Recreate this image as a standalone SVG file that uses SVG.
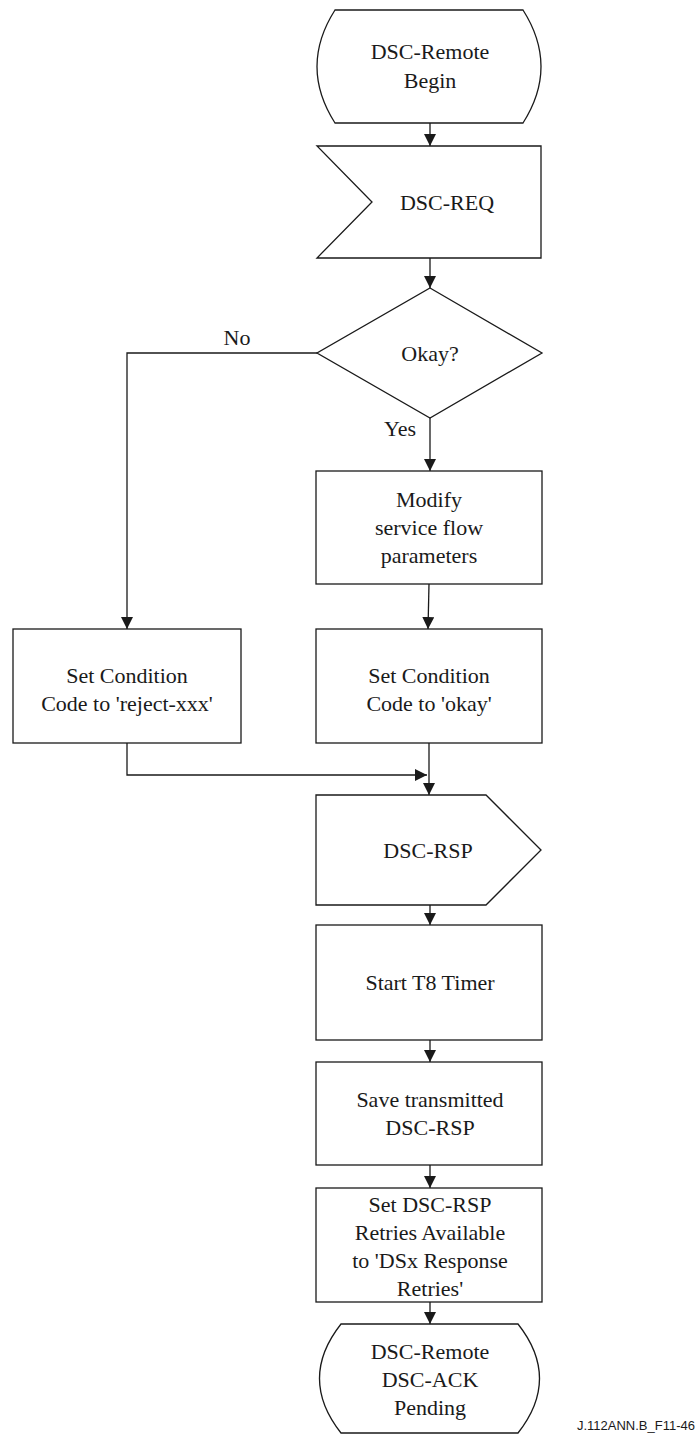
<svg xmlns="http://www.w3.org/2000/svg" width="698" height="1439" viewBox="0 0 698 1439">
<style>
.s{fill:#fff;stroke:#1a1a1a;stroke-width:1.3}
.c{fill:none;stroke:#1a1a1a;stroke-width:1.3}
.t{font-family:"Liberation Serif","Times New Roman",serif;font-size:22px;fill:#1a1a1a;text-anchor:middle}
.l{font-family:"Liberation Sans",Arial,sans-serif;font-size:13px;fill:#1a1a1a;text-anchor:end}
</style>
<defs>
<marker id="a" markerWidth="12" markerHeight="12" viewBox="0 0 12 12" refX="12" refY="6" orient="auto" markerUnits="userSpaceOnUse">
<path d="M0,0 L12,6 L0,12 Z" fill="#1a1a1a"/>
</marker>
</defs>
<g id="connectors">
<line class="c" x1="430" y1="123" x2="430" y2="146" marker-end="url(#a)"/>
<line class="c" x1="430" y1="258" x2="430" y2="288" marker-end="url(#a)"/>
<line class="c" x1="430" y1="418" x2="430" y2="471" marker-end="url(#a)"/>
<polyline class="c" points="317,353 127,353 127,629" marker-end="url(#a)"/>
<line class="c" x1="429" y1="584" x2="428" y2="629" marker-end="url(#a)"/>
<polyline class="c" points="127,743 127,775 427,775" marker-end="url(#a)"/>
<line class="c" x1="429" y1="743" x2="429" y2="795" marker-end="url(#a)"/>
<line class="c" x1="430" y1="905" x2="430" y2="925" marker-end="url(#a)"/>
<line class="c" x1="430" y1="1040" x2="430" y2="1062" marker-end="url(#a)"/>
<line class="c" x1="430" y1="1165" x2="430" y2="1188" marker-end="url(#a)"/>
<line class="c" x1="430" y1="1302" x2="430" y2="1324" marker-end="url(#a)"/>
<text class="t" x="237" y="345">No</text>
<text class="t" x="400" y="436">Yes</text>
</g>
<g id="start">
<path class="s" d="M335,10 H523 Q559,66.5 523,123 H335 Q299,66.5 335,10 Z"/>
<text class="t" x="430" y="59">DSC-Remote</text>
<text class="t" x="430" y="88">Begin</text>
</g>
<g id="dsc-req">
<path class="s" d="M317,146 H541 V258 H317 L372,202 Z"/>
<text class="t" x="447" y="210">DSC-REQ</text>
</g>
<g id="okay">
<path class="s" d="M430,288 L542,353 L430,418 L317,353 Z"/>
<text class="t" x="430" y="361">Okay?</text>
</g>
<g id="modify">
<rect class="s" x="316" y="471" width="226" height="113"/>
<text class="t" x="429" y="507">Modify</text>
<text class="t" x="429" y="535">service flow</text>
<text class="t" x="429" y="563">parameters</text>
</g>
<g id="reject">
<rect class="s" x="13" y="629" width="228" height="114"/>
<text class="t" x="127" y="683">Set Condition</text>
<text class="t" x="127" y="711">Code to 'reject-xxx'</text>
</g>
<g id="set-okay">
<rect class="s" x="316" y="629" width="226" height="114"/>
<text class="t" x="429" y="683">Set Condition</text>
<text class="t" x="429" y="711">Code to 'okay'</text>
</g>
<g id="dsc-rsp">
<path class="s" d="M316,795 H486 L541,850 L486,905 H316 Z"/>
<text class="t" x="428" y="858">DSC-RSP</text>
</g>
<g id="t8">
<rect class="s" x="316" y="925" width="226" height="115"/>
<text class="t" x="430" y="990">Start T8 Timer</text>
</g>
<g id="save">
<rect class="s" x="316" y="1062" width="226" height="103"/>
<text class="t" x="430" y="1107">Save transmitted</text>
<text class="t" x="430" y="1135">DSC-RSP</text>
</g>
<g id="retries">
<rect class="s" x="316" y="1188" width="226" height="114"/>
<text class="t" x="430" y="1212">Set DSC-RSP</text>
<text class="t" x="430" y="1240">Retries Available</text>
<text class="t" x="430" y="1268">to 'DSx Response</text>
<text class="t" x="430" y="1296">Retries'</text>
</g>
<g id="end">
<path class="s" d="M341,1324 H518 Q561,1378.5 518,1433 H341 Q298,1378.5 341,1324 Z"/>
<text class="t" x="430" y="1359">DSC-Remote</text>
<text class="t" x="430" y="1387">DSC-ACK</text>
<text class="t" x="430" y="1415">Pending</text>
</g>
<text class="l" x="695" y="1430">J.112ANN.B_F11-46</text>
</svg>
